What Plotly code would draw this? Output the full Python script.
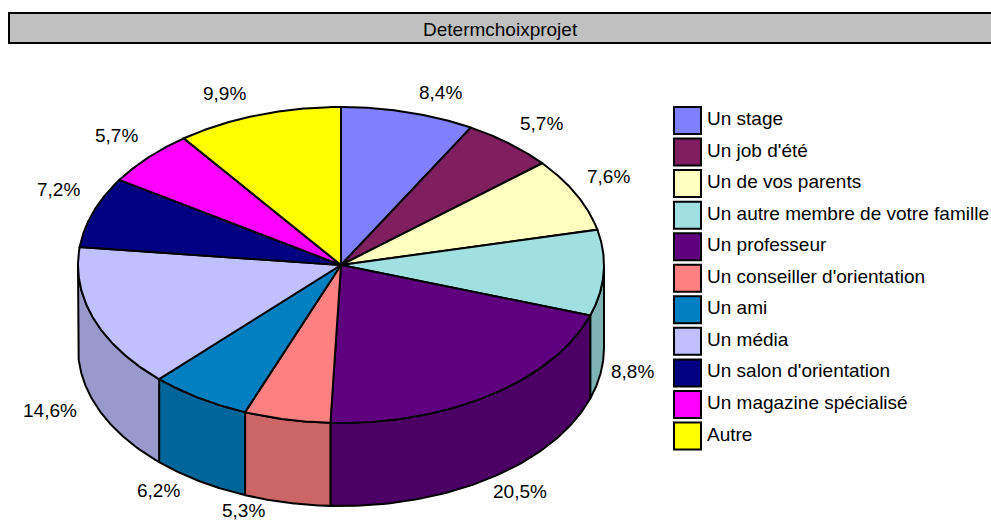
import numpy as np
import plotly.graph_objects as go

categories = ["Un stage", "Un job d'été", "Un de vos parents",
              "Un autre membre de votre famille", "Un professeur",
              "Un conseiller d'orientation", "Un ami", "Un média",
              "Un salon d'orientation", "Un magazine spécialisé", "Autre"]
values = [8.4, 5.7, 7.6, 8.8, 20.5, 5.3, 6.2, 14.6, 7.2, 5.7, 9.9]
colors = ["#8080FF", "#7F1F5F", "#FFFFC0", "#A0E0E0", "#5F007F", "#FF8080",
          "#0080C0", "#C0C0FF", "#000080", "#FF00FF", "#FFFF00"]
title = "Determchoixprojet"

# Layout constants (pixels of the 991x520 page)
W, H = 991, 520
CX, CY, RX, RY, DEPTH = 341, 265, 263, 158, 83
LABEL_XY = [(440, 92), (541, 123), (608, 176), (632, 371), (520, 491), (243, 509.5),
            (158, 490), (50, 410), (58, 189), (116, 135), (224, 93)]
FONT = "Liberation Sans, Arial, sans-serif"
FS = 19
PROJECTION_LAG = 1.3  # degrees: slight angular distortion of the 3D projection


def darker(c, f=0.8):
    r, g, b = (int(c[i:i + 2], 16) for i in (1, 3, 5))
    return f"rgb({int(r * f)},{int(g * f)},{int(b * f)})"


def pt(a, dz=0.0):
    a = np.radians(a)
    return CX + RX * np.sin(a), CY - RY * np.cos(a) + dz


pct = np.concatenate([[0], np.cumsum(values)])
pct[-1] = 100.0
edges = pct * 3.6
edges = edges - PROJECTION_LAG * np.sqrt(np.sin(np.radians(edges / 2)).clip(0))
edges[-1] = 360.0
fig = go.Figure()

# side walls (only the part of each slice facing the viewer: 90..270 degrees)
for i, (v, c) in enumerate(zip(values, colors)):
    a0, a1 = max(edges[i], 90), min(edges[i + 1], 270)
    if a1 <= a0:
        continue
    t = np.linspace(a0, a1, 80)
    xt, yt = pt(t)
    xb, yb = pt(t, DEPTH)
    fig.add_trace(go.Scatter(
        x=np.r_[xt, xb[::-1], xt[0]], y=np.r_[yt, yb[::-1], yt[0]],
        mode="lines", fill="toself", fillcolor=darker(c),
        line=dict(color="black", width=2), hoverinfo="skip", showlegend=False))

# top faces
for i, (name, v, c) in enumerate(zip(categories, values, colors)):
    t = np.linspace(edges[i], edges[i + 1], 100)
    xt, yt = pt(t)
    fig.add_trace(go.Scatter(
        x=np.r_[CX, xt, CX], y=np.r_[CY, yt, CY],
        mode="lines", fill="toself", fillcolor=c, name=name,
        line=dict(color="black", width=2), hoverinfo="name", showlegend=False))

# legend swatches
lx, ly0, lstep = 687.5, 120.5, 31.55
ly = [ly0 + k * lstep for k in range(len(categories))]
fig.add_trace(go.Scatter(
    x=[lx] * len(categories), y=ly, mode="markers",
    marker=dict(symbol="square", size=27, color=colors, line=dict(color="black", width=2)),
    hoverinfo="skip", showlegend=False))

ann = []
for name, y in zip(categories, ly):
    ann.append(dict(x=705, y=y - 2, text=name, xanchor="left", yanchor="middle", showarrow=False))
for v, (x, y) in zip(values, LABEL_XY):
    ann.append(dict(x=x, y=y, text=f"{v:.1f}%".replace(".", ","), xanchor="center",
                    yanchor="middle", showarrow=False, borderpad=0, height=20))
ann.append(dict(x=500, y=29, text=title, xanchor="center", yanchor="middle", showarrow=False))

fig.update_layout(
    width=W, height=H, margin=dict(l=0, r=0, t=0, b=0, pad=0), autosize=False,
    paper_bgcolor="white", plot_bgcolor="white",
    font=dict(family=FONT, size=FS, color="black"),
    xaxis=dict(range=[0, W], visible=False, fixedrange=True),
    yaxis=dict(range=[H, 0], visible=False, fixedrange=True),
    annotations=ann,
    shapes=[dict(type="rect", x0=9, x1=1000, y0=13, y1=43, fillcolor="#C0C0C0",
                 line=dict(color="black", width=2), layer="below")],
)
fig.write_html("out.html", config={"displayModeBar": False},
               post_script="document.body.style.margin='0';document.body.style.overflow='hidden';")
